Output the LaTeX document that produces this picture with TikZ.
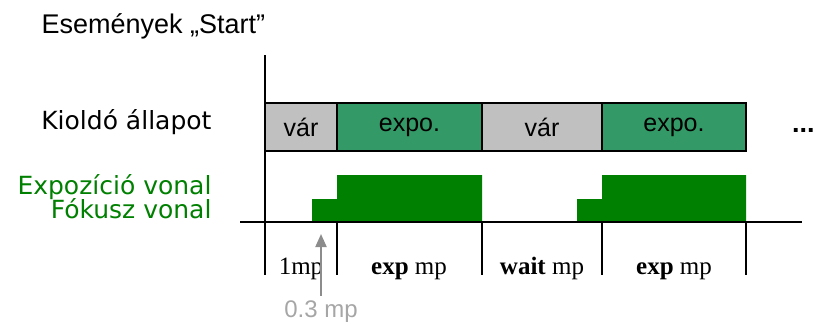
\documentclass[tikz,border=0pt]{standalone}
\usepackage{fontspec}
\usepackage{tikz}
\usetikzlibrary{arrows.meta,positioning}
\newfontfamily\arialf{Liberation Sans}
\newfontfamily\verdf{DejaVu Sans}
\newfontfamily\timesf{Liberation Serif}
\definecolor{varfill}{HTML}{C0C0C0}
\definecolor{expofill}{HTML}{339966}
\definecolor{jelzold}{HTML}{008000}
\definecolor{nyilszurke}{HTML}{8C8C8C}
\definecolor{szurkeszoveg}{HTML}{A6A6A6}

\begin{document}
\begin{tikzpicture}[x=1pt,y=-1pt]
\tikzset{cell/.style={draw,line width=1.5pt,outer sep=0pt,inner sep=0pt,minimum height=48pt,font=\arialf\fontsize{25}{28}\selectfont},
  mplabel/.style={font=\timesf\fontsize{25}{28}\selectfont},
  sorcim/.style={anchor=base east,font=\verdf\fontsize{25}{28}\selectfont}}
\useasboundingbox (0,0) rectangle (816,325);
% allapot sor
\node[cell,fill=varfill,minimum width=72pt,anchor=north west] (var1) at (265,103) {v\'ar};
\node[cell,fill=expofill,minimum width=145pt,right=0pt of var1] (expo1) {expo.};
\node[cell,fill=varfill,minimum width=120pt,right=0pt of expo1] (var2) {v\'ar};
\node[cell,fill=expofill,minimum width=144pt,right=0pt of var2] (expo2) {expo.};
\node[anchor=base west,inner sep=0pt,font=\arialf\bfseries\fontsize{27}{30}\selectfont] (dots) at (792,132) {...};
\node[anchor=base west,font=\arialf\fontsize{27}{30}\selectfont] (esem) at (38,33) {Esem\'enyek \char"201E Start\char"201D};
\node[sorcim] (kiold) at (215,129) {Kiold\'o \'allapot};
\node[sorcim,text=jelzold] (expvon) at (215,194) {Expoz\'ici\'o vonal};
\node[sorcim,text=jelzold] (fokvon) at (215,218) {F\'okusz vonal};
% jelek
\fill[jelzold] (312,222) -- (312,199) -- (337,199) -- (337,175) -- (482,175) -- (482,222) -- cycle;
\fill[jelzold] (577,222) -- (577,199) -- (602,199) -- (602,175) -- (746,175) -- (746,222) -- cycle;
% tengelyek
\draw[line width=1.5pt] (240,222) -- (802,222);
\draw[line width=1.5pt] (265,55) -- (265,275);
\foreach \tx in {337,482,602,746}
  \draw[line width=1.5pt] (\tx,222) -- (\tx,275);
\node[mplabel,anchor=base] (mp1) at (301,274) {1mp};
\node[mplabel,anchor=base] (mp2) at (409,274) {\textbf{exp} mp};
\node[mplabel,anchor=base] (mp3) at (542,274) {\textbf{wait} mp};
\node[mplabel,anchor=base] (mp4) at (674,274) {\textbf{exp} mp};
\node[anchor=base,inner sep=0pt,text=szurkeszoveg,font=\arialf\fontsize{24}{27}\selectfont] (fokido) at (321,317) {0.3 mp};
\coordinate (nyiltalp) at (321,296);
\coordinate (nyilhegy) at (321,234);
\draw[nyilszurke,line width=2pt,-{Triangle[length=13pt,width=11pt]}] (nyiltalp) -- (nyilhegy);
\end{tikzpicture}
\end{document}
